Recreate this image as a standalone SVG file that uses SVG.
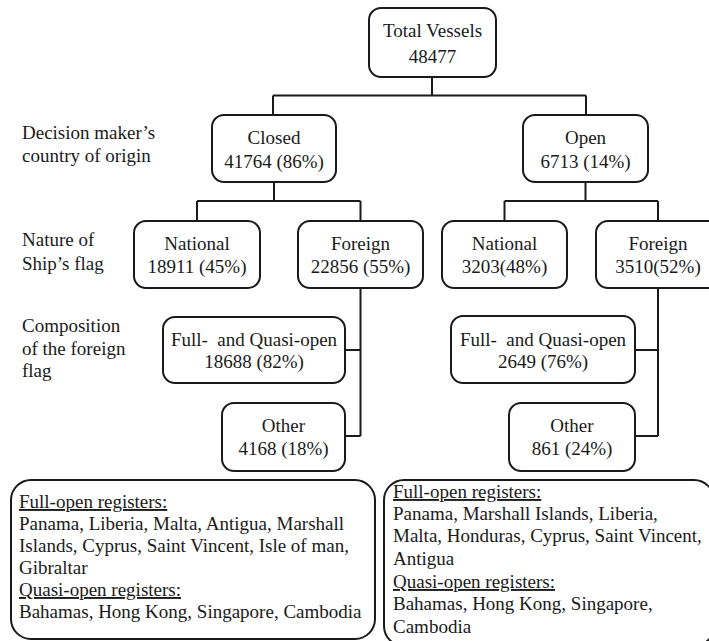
<svg xmlns="http://www.w3.org/2000/svg" width="709" height="641" viewBox="0 0 709 641" font-family="'Liberation Serif', 'Times New Roman', Tinos, 'DejaVu Serif', serif">
<style>
  text { font-family: "Liberation Serif", "Times New Roman", Tinos, "DejaVu Serif", serif; font-size: 19px; fill: #1a1a1a; }
  .c { text-anchor: middle; }
  .box { fill: #ffffff; stroke: #1a1a1a; stroke-width: 2; }
  .ln { fill: none; stroke: #1a1a1a; stroke-width: 2; }
  .u { text-decoration: underline; }
</style>
<rect width="709" height="641" fill="#ffffff"/>

<g id="connectors">
  <path class="ln" d="M432,77 V95.5 M273,95.5 H586 M273,95.5 V115 M586,95.5 V115"/>
  <path class="ln" d="M274,182 V201 M197,201 H360.5 M197,201 V221 M360.5,201 V221"/>
  <path class="ln" d="M585.5,182 V201 M504.5,201 H658 M504.5,201 V221 M658,201 V221"/>
  <path class="ln" d="M360.5,288 V436 M345,350 H360.5 M345,436 H360.5"/>
  <path class="ln" d="M658,288 V436 M635,350 H658 M635,436 H658"/>
</g>

<g id="labels">
  <text x="22" y="139">Decision maker’s</text>
  <text x="22" y="162">country of origin</text>
  <text x="22" y="246">Nature of</text>
  <text x="22" y="270">Ship’s flag</text>
  <text x="22" y="332">Composition</text>
  <text x="22" y="355">of the foreign</text>
  <text x="22" y="377">flag</text>
</g>

<g id="total">
  <rect class="box" x="369" y="8" width="127" height="69" rx="12"/>
  <text class="c" x="432.5" y="37">Total Vessels</text>
  <text class="c" x="432.5" y="63">48477</text>
</g>

<g id="closed">
  <rect class="box" x="212" y="115" width="124" height="67" rx="12"/>
  <text class="c" x="274" y="144">Closed</text>
  <text class="c" x="274" y="168">41764 (86%)</text>
</g>

<g id="open">
  <rect class="box" x="523" y="115" width="125" height="67" rx="12"/>
  <text class="c" x="585.5" y="144">Open</text>
  <text class="c" x="585.5" y="168">6713 (14%)</text>
</g>

<g id="closed-national">
  <rect class="box" x="134" y="221" width="126" height="67" rx="12"/>
  <text class="c" x="197" y="250">National</text>
  <text class="c" x="197" y="273">18911 (45%)</text>
</g>

<g id="closed-foreign">
  <rect class="box" x="298" y="221" width="125" height="67" rx="12"/>
  <text class="c" x="360.5" y="250">Foreign</text>
  <text class="c" x="360.5" y="273">22856 (55%)</text>
</g>

<g id="open-national">
  <rect class="box" x="442" y="221" width="125" height="67" rx="12"/>
  <text class="c" x="504.5" y="250">National</text>
  <text class="c" x="504.5" y="273">3203(48%)</text>
</g>

<g id="open-foreign">
  <rect class="box" x="596" y="221" width="124" height="67" rx="12"/>
  <text class="c" x="658" y="250">Foreign</text>
  <text class="c" x="658" y="273">3510(52%)</text>
</g>

<g id="closed-fullquasi">
  <rect class="box" x="163" y="317" width="182" height="66" rx="12"/>
  <text class="c" x="254" y="346" xml:space="preserve">Full-  and Quasi-open</text>
  <text class="c" x="254" y="368">18688 (82%)</text>
</g>

<g id="closed-other">
  <rect class="box" x="222" y="403" width="123" height="68" rx="12"/>
  <text class="c" x="283.5" y="432">Other</text>
  <text class="c" x="283.5" y="455">4168 (18%)</text>
</g>

<g id="open-fullquasi">
  <rect class="box" x="451" y="316" width="184" height="67" rx="12"/>
  <text class="c" x="543" y="346" xml:space="preserve">Full-  and Quasi-open</text>
  <text class="c" x="543" y="368">2649 (76%)</text>
</g>

<g id="open-other">
  <rect class="box" x="509" y="403" width="126" height="68" rx="12"/>
  <text class="c" x="572" y="432">Other</text>
  <text class="c" x="572" y="455">861 (24%)</text>
</g>

<g id="closed-registers">
  <rect class="box" x="11" y="480" width="364" height="159" rx="20"/>
  <text class="u" x="19" y="508">Full-open registers:</text>
  <text x="19" y="530">Panama, Liberia, Malta, Antigua, Marshall</text>
  <text x="19" y="552">Islands, Cyprus, Saint Vincent, Isle of man,</text>
  <text x="19" y="574">Gibraltar</text>
  <text class="u" x="19" y="596">Quasi-open registers:</text>
  <text x="19" y="618">Bahamas, Hong Kong, Singapore, Cambodia</text>
</g>

<g id="open-registers">
  <rect class="box" x="384" y="480" width="330" height="166" rx="20"/>
  <text class="u" x="393" y="498">Full-open registers:</text>
  <text x="393" y="520">Panama, Marshall Islands, Liberia,</text>
  <text x="393" y="542">Malta, Honduras, Cyprus, Saint Vincent,</text>
  <text x="393" y="565">Antigua</text>
  <text class="u" x="393" y="588">Quasi-open registers:</text>
  <text x="393" y="610">Bahamas, Hong Kong, Singapore,</text>
  <text x="393" y="633">Cambodia</text>
</g>
</svg>
